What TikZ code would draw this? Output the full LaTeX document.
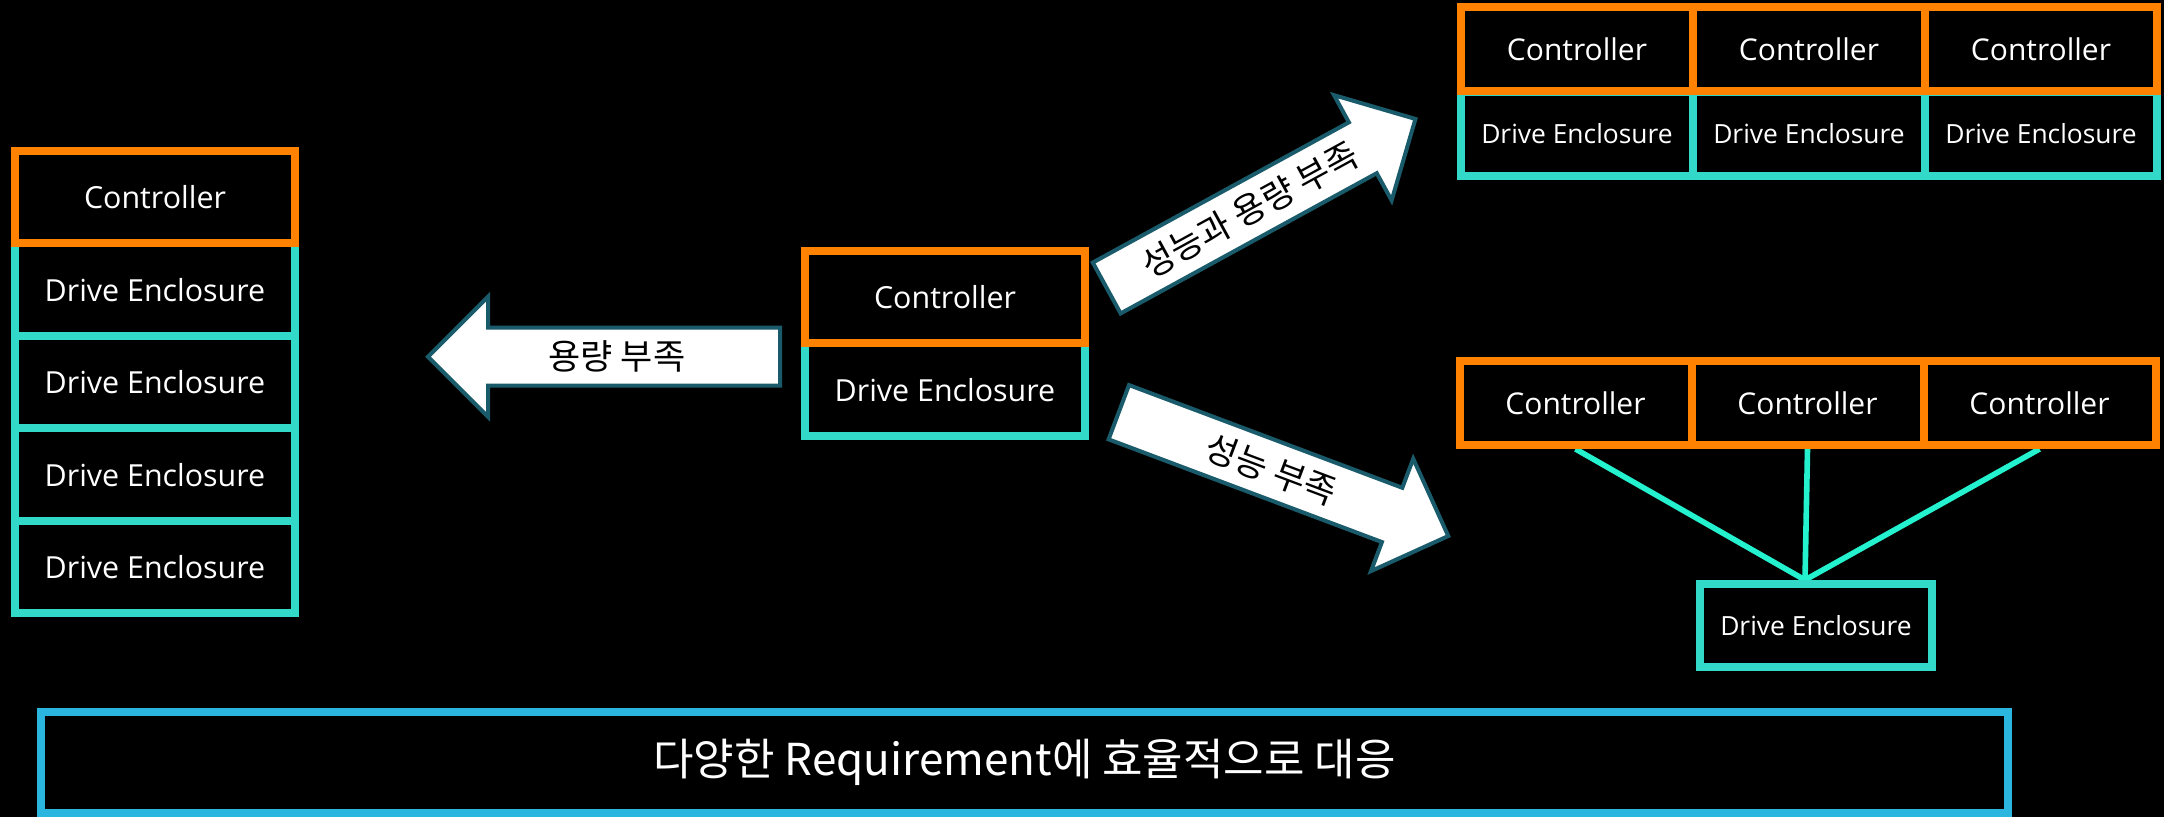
\documentclass[tikz,border=0pt]{standalone}
\usepackage{fontspec}
\setmainfont{Open Sans}
\newfontfamily\krfont{Noto Sans CJK KR}
\usetikzlibrary{backgrounds,calc}
\definecolor{ctrlorange}{HTML}{FF8200}
\definecolor{enclc}{HTML}{32D9C8}
\definecolor{linkc}{HTML}{24F2CF}
\definecolor{footblue}{HTML}{2AB6DF}
\definecolor{arrowedge}{HTML}{1A5B6B}
\begin{document}
\begin{tikzpicture}[x=0.5pt,y=-0.5pt,
  boxbase/.style={line width=4pt, fill=black, text=white, inner sep=0pt, align=center},
  ctrl/.style={boxbase, draw=ctrlorange, minimum width=140pt, minimum height=46.25pt, font=\fontsize{15.2}{18}\selectfont},
  encl/.style={boxbase, draw=enclc, minimum width=140pt, minimum height=46.25pt, font=\fontsize{15.2}{18}\selectfont},
  ctrlsm/.style={boxbase, draw=ctrlorange, minimum width=116pt, minimum height=42pt, font=\fontsize{15}{18}\selectfont},
  enclsm/.style={boxbase, draw=enclc, minimum width=116pt, minimum height=42pt, font=\fontsize{13.2}{16}\selectfont},
  link/.style={draw=linkc, line width=2.8pt},
  bigarrow/.style={draw=arrowedge, fill=white, line width=2pt, line join=miter},
  arrowtext/.style={text=black, inner sep=0pt, font=\krfont\fontsize{17.5}{20}\selectfont},
  foot/.style={draw=footblue, line width=4pt, fill=black, text=white, inner sep=0pt, minimum width=983.5pt, minimum height=50.5pt, font=\krfont\fontsize{22}{25}\selectfont}
]
\useasboundingbox (0,0) rectangle (2164,817);
\begin{scope}[on background layer]
  \fill[black] (0,0) rectangle (2164,817);
\end{scope}

% left stack
\node[encl] (l1) at (155,289.75) {Drive Enclosure};
\node[encl] (l2) at (155,382.25) {Drive Enclosure};
\node[encl] (l3) at (155,474.75) {Drive Enclosure};
\node[encl] (l4) at (155,567.25) {Drive Enclosure};
\node[ctrl] (l0) at (155,197.25) {Controller};

% middle stack
\node[encl] (m1) at (945,389.75) {Drive Enclosure};
\node[ctrl] (m0) at (945,297.25) {Controller};

% top right group
\node[enclsm] (te1) at (1577,134) {Drive Enclosure};
\node[enclsm] (te2) at (1809,134) {Drive Enclosure};
\node[enclsm] (te3) at (2041,134) {Drive Enclosure};
\node[ctrlsm] (tc1) at (1577,49.5) {Controller};
\node[ctrlsm] (tc2) at (1809,49.5) {Controller};
\node[ctrlsm] (tc3) at (2041,49.5) {Controller};

% bottom right group
\node[ctrlsm] (bc1) at (1575.5,403) {Controller};
\node[ctrlsm] (bc2) at (1807.5,403) {Controller};
\node[ctrlsm] (bc3) at (2039.5,403) {Controller};
\node[enclsm, minimum height=41.5pt] (bd) at (1816,625.5) {Drive Enclosure};
\coordinate (hub) at ($(bd.north)+(-11,0)$);
\begin{scope}[on background layer]
  \draw[link] (bc1.south) -- (hub);
  \draw[link] (bc2.south) -- (hub);
  \draw[link] (bc3.south) -- (hub);
\end{scope}

% block arrows
\begin{scope}[shift={(780,356.7)}, rotate=180]
  \draw[bigarrow] (0,29) -- (292,29) -- (292,60) -- (352,0) -- (292,-60) -- (292,-29) -- (0,-29) -- cycle;
  \node[arrowtext] (a1) at (163,0) {용량 부족};
\end{scope}
\begin{scope}[shift={(1106.7,288)}, rotate=28.7]
  \draw[bigarrow] (0,29) -- (292,29) -- (292,60) -- (352,0) -- (292,-60) -- (292,-29) -- (0,-29) -- cycle;
  \node[arrowtext, rotate=28.7] (a2) at (163,0) {성능과 용량 부족};
\end{scope}
\begin{scope}[shift={(1118.8,412.2)}, rotate=-20.6]
  \draw[bigarrow] (0,29) -- (292,29) -- (292,60) -- (352,0) -- (292,-60) -- (292,-29) -- (0,-29) -- cycle;
  \node[arrowtext, rotate=-20.6] (a3) at (163,0) {성능 부족};
\end{scope}

% footer
\node[foot] (ft) at (1024.5,762.5) {다양한 Requirement에 효율적으로 대응};
\end{tikzpicture}
\end{document}
